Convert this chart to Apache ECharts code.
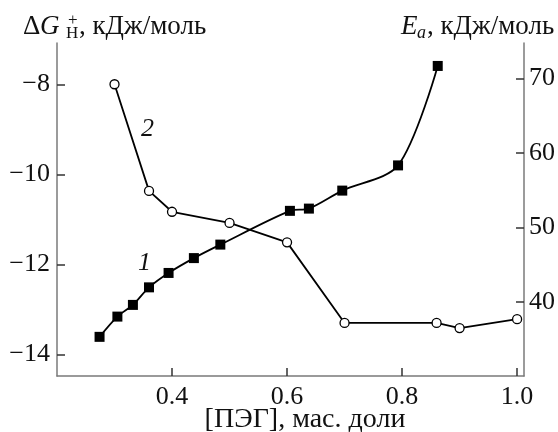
<!DOCTYPE html>
<html>
<head>
<meta charset="utf-8">
<script src="https://cdn.jsdelivr.net/npm/echarts@6/dist/echarts.min.js"></script>
<style>html,body{margin:0;padding:0;background:#fff;}#c{width:558px;height:432px;}</style>
</head>
<body>
<div id="c"></div>
<script>
const xTicks = [0.4, 0.6, 0.8, 1.0];
const leftTicks = [-14, -12, -10, -8];
const rightTicks = [40, 50, 60, 70];
const peg1 = [0.274, 0.305, 0.332, 0.360, 0.394, 0.438, 0.484, 0.605, 0.638, 0.696, 0.793, 0.862];
const dG = [-13.61, -13.16, -12.90, -12.51, -12.19, -11.86, -11.56, -10.81, -10.76, -10.36, -9.80, -7.59];
const peg2 = [0.30, 0.36, 0.40, 0.50, 0.60, 0.70, 0.86, 0.90, 1.00];
const Ea = [69.2, 54.9, 52.1, 50.6, 48.0, 37.2, 37.2, 36.5, 37.7];

const FONT = '"Liberation Serif", "DejaVu Serif", serif';
const FS = 26;
const TFS = 27;
const axisGray = '#7a7a7a';
const tickCol = '#333';

const chart = echarts.init(document.getElementById('c'), null, {renderer: 'canvas'});
const s1 = peg1.map((x, i) => [x, dG[i]]);
const s2 = peg2.map((x, i) => [x, Ea[i]]);

function txt(x, y, text, font, align) {
  return {type: 'text', x: x, y: y, silent: true,
    style: {text: text, font: font, fill: '#111', align: align || 'left', verticalAlign: 'bottom'}};
}

const option = {
  animation: false,
  backgroundColor: '#fff',
  grid: {left: 57, right: 32, top: 43, bottom: 56, containLabel: false},
  xAxis: {
    type: 'value', min: 0.2, max: 1.012,
    splitLine: {show: false},
    axisLine: {show: true, onZero: false, lineStyle: {color: axisGray, width: 1.5}},
    axisTick: {show: true, inside: true, length: 8, customValues: xTicks, lineStyle: {color: tickCol, width: 1.5}},
    axisLabel: {customValues: xTicks, margin: 8, fontFamily: FONT, fontSize: FS, color: '#111',
      formatter: v => v.toFixed(1)}
  },
  yAxis: [{
    type: 'value', min: -14.48, max: -7.08, position: 'left',
    splitLine: {show: false},
    axisLine: {show: true, onZero: false, lineStyle: {color: axisGray, width: 1.5}},
    axisTick: {show: true, inside: true, length: 8, customValues: leftTicks, lineStyle: {color: tickCol, width: 1.5}},
    axisLabel: {customValues: leftTicks, margin: 7, fontFamily: FONT, fontSize: FS, color: '#111',
      formatter: v => (v < 0 ? '\u2212' + Math.abs(v) : String(v))}
  }, {
    type: 'value', min: 30.08, max: 74.73, position: 'right',
    splitLine: {show: false},
    axisLine: {show: true, onZero: false, lineStyle: {color: axisGray, width: 1.5}},
    axisTick: {show: true, inside: true, length: 8, customValues: rightTicks, lineStyle: {color: tickCol, width: 1.5}},
    axisLabel: {customValues: rightTicks, margin: 5, fontFamily: FONT, fontSize: FS, color: '#111'}
  }],
  series: [{
    type: 'line', yAxisIndex: 0, data: s1, smooth: 0.3,
    symbol: 'rect', symbolSize: 10,
    itemStyle: {color: '#000'},
    lineStyle: {color: '#000', width: 1.8}
  }, {
    type: 'line', yAxisIndex: 1, data: s2, smooth: false,
    symbol: 'circle', symbolSize: 9,
    itemStyle: {color: '#fff', borderColor: '#000', borderWidth: 1.3},
    lineStyle: {color: '#000', width: 1.8},
    z: 3
  }],
  graphic: [
    txt(23, 40, 'Δ', TFS + 'px ' + FONT),
    txt(40, 40, 'G', 'italic ' + TFS + 'px ' + FONT),
    txt(66, 42, 'H', '17px ' + FONT),
    txt(68, 29, '+', '17px ' + FONT),
    txt(79, 40, ', кДж/моль', TFS + 'px ' + FONT),
    txt(401, 40, 'E', 'italic ' + TFS + 'px ' + FONT),
    txt(417, 42, 'a', 'italic 18px ' + FONT),
    txt(427, 40, ', кДж/моль', TFS + 'px ' + FONT),
    txt(305, 434, '[ПЭГ], мас. доли', '28px ' + FONT, 'center'),
    txt(141, 142, '2', 'italic ' + FS + 'px ' + FONT),
    txt(138, 276, '1', 'italic ' + FS + 'px ' + FONT)
  ]
};
chart.setOption(option);
</script>
</body>
</html>
